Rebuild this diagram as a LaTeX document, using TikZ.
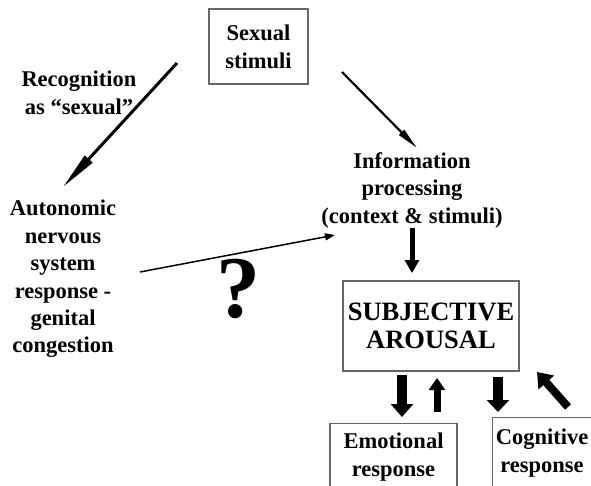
\documentclass[tikz,border=0pt]{standalone}
\usepackage{fontspec}
\setmainfont{Liberation Serif}
\usetikzlibrary{arrows.meta}
\begin{document}
\begin{tikzpicture}[x=1pt,y=-1pt,
  txt/.style={font=\fontsize{22.5}{28}\selectfont\bfseries, align=center, inner sep=0pt},
  box/.style={draw=gray!80!black, line width=1.2pt, inner sep=0pt},
  blk/.style={draw=black}]
\useasboundingbox (0,0) rectangle (591,485);
\clip (0,0) rectangle (591,485);
\fill[white] (0,0) rectangle (591,485);

% nodes
\node[box, txt, minimum width=99pt, minimum height=75pt] (ss) at (258.5,46.5) {Sexual\\stimuli};
\node[txt] (rec) at (79,93) {Recognition\\as “sexual”};
\node[txt, font=\fontsize{22.5}{27.4}\selectfont\bfseries] (ans) at (63,279) {Autonomic\\nervous\\system\\response -\\genital\\congestion};
\node[txt, font=\fontsize{22.5}{27.5}\selectfont\bfseries] (info) at (412,190) {Information\\processing\\(context \& stimuli)};
\node[font=\fontsize{88}{88}\selectfont\bfseries, inner sep=0pt] (q) at (238,289) {?};
\node[box, minimum width=176pt, minimum height=90pt, align=center,
      font=\fontsize{26.5}{28}\selectfont\bfseries] (subj) at (431,326) {SUBJECTIVE\\AROUSAL};
\node[box, minimum width=127pt, minimum height=90pt, anchor=north] (emo) at (393.5,423) {};
\node[txt] (emot) at (393.5,457) {Emotional\\response};
\node[box, minimum width=120pt, minimum height=90pt, anchor=north west] (cog) at (492,417) {};
\node[txt] (cogt) at (542,453) {Cognitive\\response};

% connector end points
\coordinate (a1s) at (177,63);
\coordinate (a1e) at (63,187);
\coordinate (a2s) at (342,72);
\coordinate (a2e) at (417,148);
\coordinate (a3s) at (140,272);
\coordinate (a3e) at (335,235);
\coordinate (a4s) at (412,228);
\coordinate (a4e) at (412,273);
\coordinate (b1s) at (402,375);
\coordinate (b1e) at (402,417);
\coordinate (b2s) at (437,412);
\coordinate (b2e) at (437,378);
\coordinate (b3s) at (498,377);
\coordinate (b3e) at (498,412);
\coordinate (b4s) at (568,407);
\coordinate (b4e) at (537,372);

% connectors
\draw[line width=3pt, -{Triangle[length=38pt,width=10pt]}] (a1s) -- (a1e);
\draw[line width=2.2pt, -{Triangle[length=22pt,width=7pt]}] (a2s) -- (a2e);
\draw[line width=1.5pt, -{Triangle[length=10pt,width=7pt]}] (a3s) -- (a3e);
\draw[line width=5pt, -{Triangle[length=13pt,width=14pt]}] (a4s) -- (a4e);
\draw[line width=10pt, -{Triangle[length=13pt,width=22pt]}] (b1s) -- (b1e);
\draw[line width=7pt, -{Triangle[length=12pt,width=16pt]}] (b2s) -- (b2e);
\draw[line width=10pt, -{Triangle[length=12pt,width=22pt]}] (b3s) -- (b3e);
\draw[line width=8pt, -{Triangle[length=14pt,width=20pt]}] (b4s) -- (b4e);
\end{tikzpicture}
\end{document}
